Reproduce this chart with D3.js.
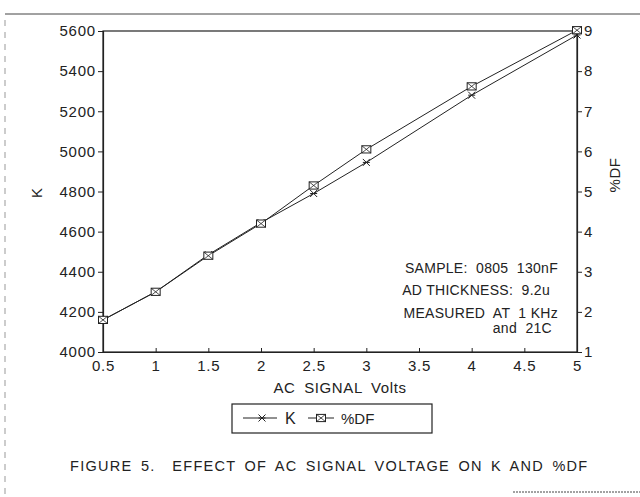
<!DOCTYPE html>
<html lang="en">
<head>
  <meta charset="UTF-8">
  <title>Figure 5 - AC signal voltage vs K and %DF</title>
  <script src="https://d3js.org/d3.v7.min.js"></script>
  <style>
    body { margin: 0; background: #fff; }
    svg text { font-family: "Liberation Sans", Arial, sans-serif; fill: #222; }
  </style>
</head>
<body>
  <script>

    // data
    var volts = [0.5, 1, 1.5, 2, 2.5, 3, 4, 5];
    var kValues = [4160, 4300, 4485, 4645, 4790, 4945, 5280, 5580];
    var dfValues = [1.8, 2.5, 3.4, 4.2, 5.15, 6.05, 7.62, 9.02];

    var xTicks = [0.5, 1, 1.5, 2, 2.5, 3, 3.5, 4, 4.5, 5];
    var kTicks = [4000, 4200, 4400, 4600, 4800, 5000, 5200, 5400, 5600];
    var dfTicks = [1, 2, 3, 4, 5, 6, 7, 8, 9];

    var notes = ["SAMPLE:  0805  130nF", "AD THICKNESS:  9.2u", "MEASURED  AT  1 KHz", "and  21C"];

    var width = 640, height = 497;
    var plotLeft = 103, plotRight = 577, plotTop = 31, plotBottom = 352;
    var ink = "#222";

    var svg = d3.select("body")
      .append("svg")
        .attr("width", width)
        .attr("height", height);

    // page border left over from the scan
    svg.append("line")
      .attr("x1", 5).attr("x2", 640).attr("y1", 14).attr("y2", 14)
      .attr("stroke", "#444").attr("stroke-width", 1);
    svg.append("line")
      .attr("x1", 5).attr("x2", 5).attr("y1", 20).attr("y2", 497)
      .attr("stroke", "#999").attr("stroke-width", 1)
      .attr("stroke-dasharray", "6,6");
    svg.append("line")
      .attr("x1", 513).attr("x2", 640).attr("y1", 492).attr("y2", 492)
      .attr("stroke", "#444").attr("stroke-width", 1)
      .attr("stroke-dasharray", "2,1");

    var x = d3.scaleLinear().domain([0.5, 5]).range([plotLeft, plotRight]);
    var yK = d3.scaleLinear().domain([4000, 5600]).range([plotBottom, plotTop]);
    var yDF = d3.scaleLinear().domain([1, 9]).range([plotBottom, plotTop]);

    // frame
    svg.append("rect")
      .attr("x", plotLeft).attr("y", plotTop)
      .attr("width", plotRight - plotLeft).attr("height", plotBottom - plotTop)
      .attr("fill", "none").attr("stroke", ink).attr("stroke-width", 1.2);

    // left axis
    var gLeft = svg.append("g")
      .attr("transform", "translate(" + plotLeft + ",0)")
      .call(d3.axisLeft(yK).tickValues(kTicks).tickSize(5).tickPadding(2).tickFormat(d3.format("d")));

    // right axis
    var gRight = svg.append("g")
      .attr("transform", "translate(" + plotRight + ",0)")
      .call(d3.axisRight(yDF).tickValues(dfTicks).tickSize(5).tickPadding(2).tickFormat(d3.format("d")));

    // bottom axis, ticks point up into the plot
    var gBottom = svg.append("g")
      .attr("transform", "translate(0," + plotBottom + ")")
      .call(d3.axisBottom(x).tickValues(xTicks).tickSizeInner(-4).tickSizeOuter(0).tickPadding(8)
        .tickFormat(function(d) { return String(d); }));

    [gLeft, gRight, gBottom].forEach(function(g) {
      g.select(".domain").attr("stroke", ink).attr("stroke-width", 1.2);
      g.selectAll(".tick line").attr("stroke", ink);
      g.selectAll(".tick text")
        .style("font-family", "'Liberation Sans', Arial, sans-serif")
        .style("font-size", "15px")
        .style("letter-spacing", "0.8px")
        .attr("fill", ink);
    });

    // axis titles
    svg.append("text")
      .attr("transform", "translate(42,193) rotate(-90)")
      .attr("text-anchor", "middle")
      .style("font-size", "15px")
      .text("K");

    svg.append("text")
      .attr("transform", "translate(620,175) rotate(-90)")
      .attr("text-anchor", "middle")
      .style("font-size", "15px")
      .style("letter-spacing", "0.5px")
      .text("%DF");

    svg.append("text")
      .attr("x", 340).attr("y", 393)
      .attr("text-anchor", "middle")
      .style("font-size", "15px")
      .style("letter-spacing", "0.6px")
      .style("word-spacing", "4px")
      .text("AC SIGNAL Volts");

    // lines
    var kPoints = volts.map(function(v, i) { return [x(v), yK(kValues[i])]; });
    var dfPoints = volts.map(function(v, i) { return [x(v), yDF(dfValues[i])]; });

    svg.append("path")
      .attr("d", d3.line()(kPoints))
      .attr("fill", "none").attr("stroke", ink).attr("stroke-width", 1);
    svg.append("path")
      .attr("d", d3.line()(dfPoints))
      .attr("fill", "none").attr("stroke", ink).attr("stroke-width", 1);

    // markers
    function starMarker(g, cx, cy) {
      var s = 3.5;
      g.append("path")
        .attr("d", "M" + (cx - s) + "," + (cy - s) + "L" + (cx + s) + "," + (cy + s) +
                   "M" + (cx - s) + "," + (cy + s) + "L" + (cx + s) + "," + (cy - s) +
                   "M" + (cx - s) + "," + cy + "L" + (cx + s) + "," + cy)
        .attr("fill", "none").attr("stroke", ink).attr("stroke-width", 1);
    }

    function boxMarker(g, cx, cy) {
      var s = 4.5;
      g.append("rect")
        .attr("x", cx - s).attr("y", cy - s * 0.8)
        .attr("width", s * 2).attr("height", s * 1.6)
        .attr("fill", "#fff").attr("stroke", ink).attr("stroke-width", 1);
      g.append("path")
        .attr("d", "M" + (cx - s) + "," + (cy - s * 0.8) + "L" + (cx + s) + "," + (cy + s * 0.8) +
                   "M" + (cx - s) + "," + (cy + s * 0.8) + "L" + (cx + s) + "," + (cy - s * 0.8))
        .attr("fill", "none").attr("stroke", ink).attr("stroke-width", 0.8);
    }

    var markG = svg.append("g");
    kPoints.forEach(function(p) { starMarker(markG, p[0], p[1]); });
    dfPoints.forEach(function(p) { boxMarker(markG, p[0], p[1]); });

    // notes in the lower right of the plot
    var noteX = [558, 550, 558, 552];
    var noteY = [268, 290, 313, 328];
    notes.forEach(function(t, i) {
      svg.append("text")
        .attr("x", noteX[i]).attr("y", noteY[i] + 5)
        .attr("text-anchor", "end")
        .style("font-size", "14px")
        .style("letter-spacing", "0.3px")
        .style("white-space", "pre")
        .text(t);
    });

    // legend
    var legend = svg.append("g");
    legend.append("rect")
      .attr("x", 232).attr("y", 404)
      .attr("width", 200).attr("height", 29)
      .attr("fill", "none").attr("stroke", ink).attr("stroke-width", 1.2);

    legend.append("line")
      .attr("x1", 243).attr("x2", 277).attr("y1", 418).attr("y2", 418)
      .attr("stroke", ink).attr("stroke-width", 1);
    starMarker(legend, 262, 418);
    legend.append("text")
      .attr("x", 285).attr("y", 424)
      .style("font-size", "16px")
      .text("K");

    legend.append("line")
      .attr("x1", 308).attr("x2", 334).attr("y1", 418).attr("y2", 418)
      .attr("stroke", ink).attr("stroke-width", 1);
    boxMarker(legend, 321, 418);
    legend.append("text")
      .attr("x", 341).attr("y", 424)
      .style("font-size", "15px")
      .text("%DF");

    // caption
    svg.append("text")
      .attr("x", 70).attr("y", 471)
      .style("font-size", "14.5px")
      .style("letter-spacing", "1.3px")
      .style("word-spacing", "3px")
      .style("white-space", "pre")
      .text("FIGURE 5.  EFFECT OF AC SIGNAL VOLTAGE ON K AND %DF");

  </script>
</body>
</html>
